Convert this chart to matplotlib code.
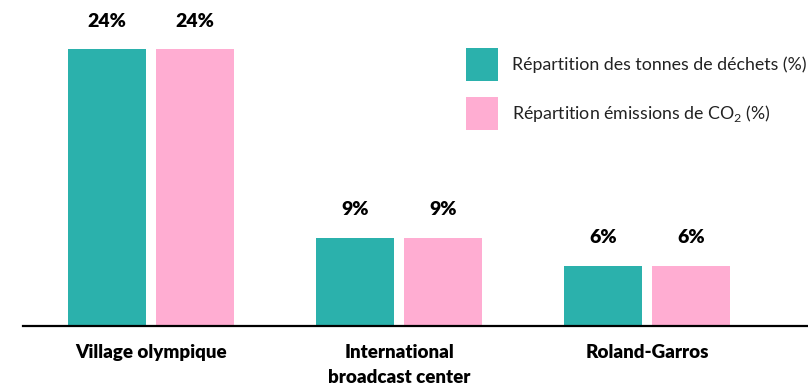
import matplotlib
matplotlib.use("Agg")
import matplotlib.pyplot as plt
import numpy as np

# data (bar heights do not quite match their labels)
sites = ["Village olympique", "International\nbroadcast center", "Roland-Garros"]
dechets = [24, 7.6, 5.2]
co2 = [24, 7.6, 5.2]
dechets_labels = ["24%", "9%", "6%"]
co2_labels = ["24%", "9%", "6%"]
series_names = ["Répartition des tonnes de déchets (%)",
                "Répartition émissions de CO$_2$ (%)"]

teal = "#2BB1AC"
pink = "#FFADD2"

plt.rcParams['font.family'] = ['Lato', 'DejaVu Sans']
plt.rcParams['mathtext.fontset'] = 'custom'
plt.rcParams['mathtext.rm'] = 'Lato'

fig = plt.figure(figsize=(8.08, 3.87), dpi=100)
W, H = 808, 387
ax = fig.add_axes([23 / W, (H - 325.5) / H, 1 - 23 / W, (325.5 - 20) / H])

x = np.arange(len(sites))
w = 0.3145
off = w / 2 + 0.02
b1 = ax.bar(x - off, dechets, w, color=teal, label=series_names[0])
b2 = ax.bar(x + off, co2, w, color=pink, label=series_names[1])

for bars, labs in [(b1, dechets_labels), (b2, co2_labels)]:
    for rect, lab in zip(bars, labs):
        ax.annotate(lab, (rect.get_x() + rect.get_width() / 2, rect.get_height()),
                    xytext=(0, 14), textcoords='offset points',
                    ha='center', va='bottom', fontsize=14, fontweight='heavy',
                    color='black')

ax.set_xlim(-0.516, 2.649)
ax.set_ylim(0, (325.5 - 20) / (276.5 / 24))

for s in ['top', 'right', 'left']:
    ax.spines[s].set_visible(False)
ax.spines['bottom'].set_linewidth(1.6)
ax.spines['bottom'].set_color('black')
ax.set_yticks([])
ax.set_xticks(x)
ax.set_xticklabels(sites, fontsize=13.5, fontweight='heavy', linespacing=1.6)
ax.tick_params(axis='x', length=0, pad=13)

fig.legend(handles=[b1, b2], loc='upper left',
           bbox_to_anchor=(466 / W, 1 - 48 / H), frameon=False,
           borderpad=0, borderaxespad=0, fontsize=12.8,
           handlelength=1.8, handleheight=2.475, handletextpad=0.8,
           labelspacing=0.9, labelcolor='#222222')

fig.savefig("out.png", dpi=100)
